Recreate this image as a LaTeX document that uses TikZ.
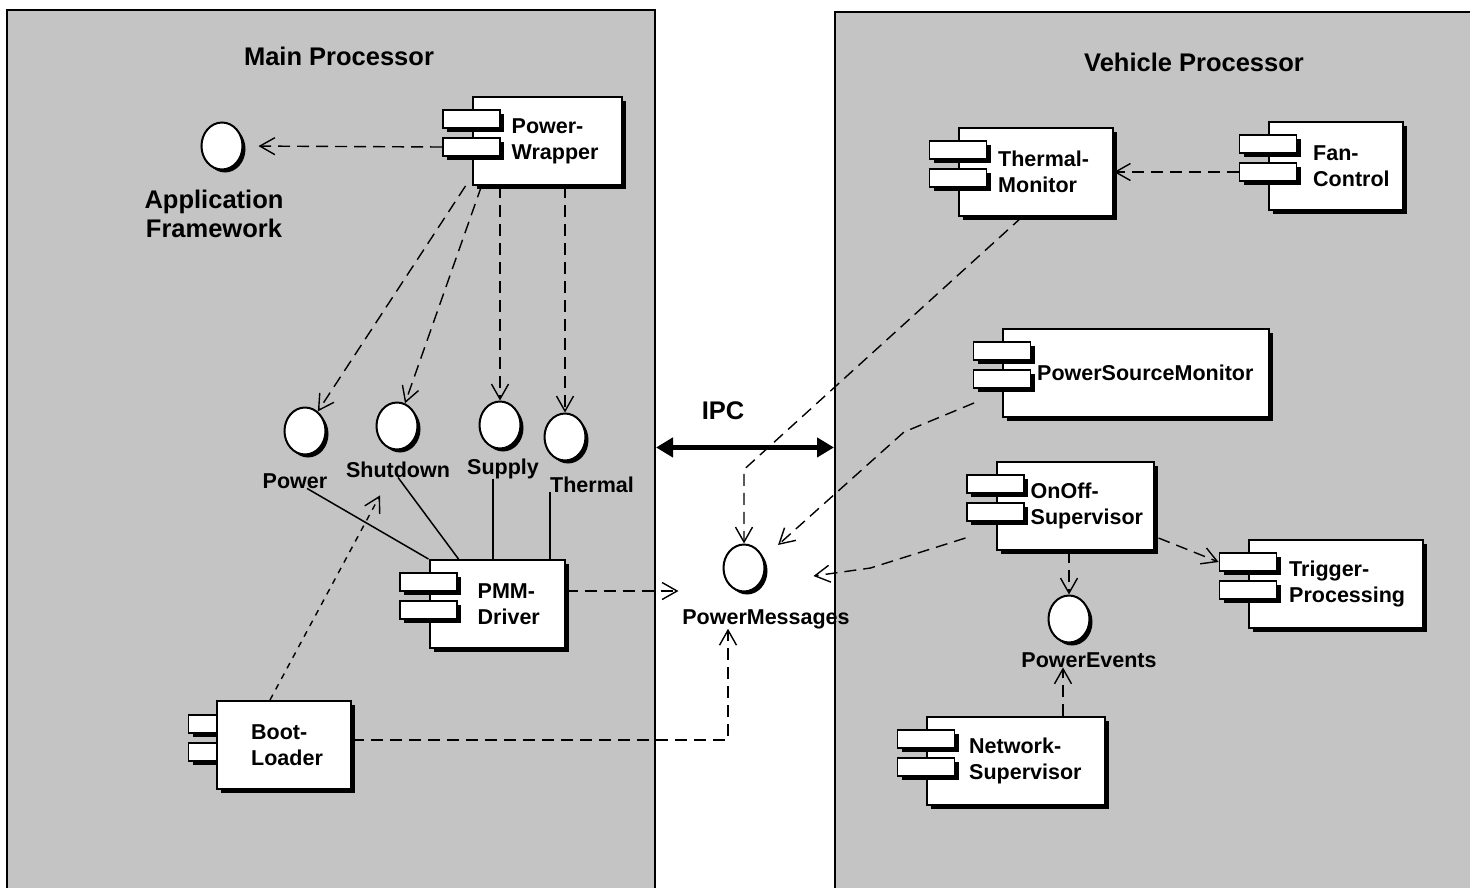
\documentclass[tikz,border=0pt]{standalone}
\usepackage{fontspec}
\setmainfont{Liberation Sans}
\usetikzlibrary{arrows.meta,shapes.geometric,shadows}
\definecolor{panelgray}{RGB}{196,196,196}
\begin{document}
\begin{tikzpicture}
  [x=1pt,y=-1pt,
   panel/.style={draw,line width=2pt,fill=panelgray,inner sep=0},
   shadowed/.style={drop shadow={shadow xshift=4pt,shadow yshift=-4pt,fill=black,opacity=1}},
   comp/.style={draw,fill=white,line width=2pt,minimum height=88pt,inner sep=0,shadowed},
   tab/.style={draw,fill=white,line width=1.8pt,minimum width=57pt,minimum height=18pt,inner sep=0,shadowed},
   ctext/.style={anchor=west,align=left,inner sep=0,font=\fontsize{21.5}{26}\selectfont\bfseries},
   iface/.style={ellipse,draw,fill=white,line width=2pt,minimum width=41pt,minimum height=47pt,inner sep=0,
     drop shadow={shadow xshift=3pt,shadow yshift=-3pt,fill=black,opacity=1}},
   lbl/.style={anchor=base,inner sep=0,font=\fontsize{21.5}{26}\selectfont\bfseries},
   big/.style={inner sep=0,align=center,font=\fontsize{25.5}{29}\selectfont\bfseries},
   dep/.style={line width=1.4pt,dash pattern=on 12pt off 7pt,-{Straight Barb[length=15pt,width=17pt]}},
   dotdep/.style={line width=1.4pt,dash pattern=on 6pt off 6pt,-{Straight Barb[length=15pt,width=17pt]}},
   real/.style={line width=1.5pt},
   ipc/.style={line width=5pt,{Triangle[length=17pt,width=19pt]}-{Triangle[length=17pt,width=19pt]}}]

  \fill[white] (0,0) rectangle (1470,887);
  \useasboundingbox (0,0) rectangle (1470,887);

  \node[panel,minimum width=648pt,minimum height=885pt] (mainp) at (331,452.5) {};
  \node[panel,minimum width=645pt,minimum height=883pt] (vehp) at (1157.5,453.5) {};

  \node[big,anchor=base] (tmain) at (339,65) {Main Processor};
  \node[big,anchor=base] (tveh) at (1194,71) {Vehicle Processor};
  \node[big,anchor=base] (lipc) at (723,419) {IPC};

  \foreach \n/\cx/\cy/\w/\dx/\txt in {
      wrap/547/141/149/40/{Power-\\Wrapper},
      pmm/497/604/135/49/{PMM-\\Driver},
      thmon/1036/172/154/40/{Thermal-\\Monitor},
      fan/1336/166/134/45/{Fan-\\Control},
      psm/1136/373/266/35/{PowerSourceMonitor},
      onoff/1075/506/157/35/{OnOff-\\Supervisor},
      trig/1336/584/174/41/{Trigger-\\Processing},
      net/1016/761/178/43/{Network-\\Supervisor}}
  {
    \node[comp,minimum width=\w pt] (\n) at (\cx,\cy) {};
    \node[tab] (\n-t1) at ([yshift=-23pt]\n.north west) {};
    \node[tab] (\n-t2) at ([yshift=-51pt]\n.north west) {};
    \node[ctext] (\n-l) at ([xshift=\dx pt]\n.west) {\txt};
  }

  \node[tab] (boot-t1) at (217,724) {};
  \node[tab] (boot-t2) at (217,752) {};
  \node[comp,minimum width=134pt] (boot) at (284,745) {};
  \node[ctext] (boot-l) at ([xshift=35pt]boot.west) {Boot-\\Loader};

  \node[iface] (app)   at (222,146) {};
  \node[iface] (ipow)  at (305,431) {};
  \node[iface] (ishut) at (397,426) {};
  \node[iface] (isup)  at (500,425) {};
  \node[iface] (ither) at (565,437) {};
  \node[iface] (imsg)  at (744,568) {};
  \node[iface] (ievt)  at (1069,619) {};

  \node[big] (lapp) at (214,214) {Application\\Framework};
  \node[lbl] (lpow)  at (295,488) {Power};
  \node[lbl] (lshut) at (398,477) {Shutdown};
  \node[lbl] (lsup)  at (503,474) {Supply};
  \node[lbl] (lther) at (592,492) {Thermal};
  \node[lbl] (lmsg)  at (766,624) {PowerMessages};
  \node[lbl] (levt)  at (1089,667) {PowerEvents};

  \draw[ipc] ([yshift=-28pt]lipc.south -| mainp.east) -- ([yshift=-28pt]lipc.south -| vehp.west);

  \draw[dep,shorten >=15pt] (wrap-t2.west) -- (app.east);
  \foreach \to/\dx in {ipow/-6,ishut/10}
    \draw[dep] ([xshift=\dx pt]wrap.south west) -- (\to);
  \foreach \to in {isup,ither}
    \draw[dep] (wrap.south -| \to) -- (\to);

  \draw[real] ([xshift=12pt]lpow.south) -- (pmm.north west);
  \draw[real] (lshut.south) -- ([xshift=30pt]pmm.north west);
  \draw[real] ([xshift=-10pt]lsup.south) -- ([xshift=-10pt]lsup.south |- pmm.north);
  \draw[real] (lther.south west) -- (lther.south west |- pmm.north);

  \draw[dep,shorten >=44pt] ([yshift=13pt]pmm.east) -- ([yshift=13pt]pmm.east -| imsg.west);
  \draw[dotdep] ([xshift=-14pt]boot.north) -- ([xshift=-18pt,yshift=-18pt]lshut.south);
  \draw[dep] ([yshift=5pt]boot.east) -| ([xshift=-38pt]lmsg.south);

  \draw[dep] ([xshift=-14pt]thmon.south) -- ([yshift=74pt]imsg.north) -- (imsg.north);
  \draw[dep] ([xshift=-28pt,yshift=-30pt]psm.west) -- ([xshift=-98pt,yshift=-59pt]psm.west)
    -- ([xshift=34pt,yshift=23pt]imsg.center);
  \draw[dep] ([xshift=-30pt,yshift=13pt]onoff.south west) -- ([xshift=105pt]imsg.east)
    -- ([xshift=48pt,yshift=-8pt]imsg.east);
  \draw[dep] ([xshift=4pt,yshift=13pt]onoff.south east) -- (trig-t1.west);
  \draw[dep] (onoff.south -| ievt) -- (ievt);
  \draw[dep] ([xshift=47pt]net.north) -- ([xshift=47pt]net.north |- levt.south);
  \draw[dep] (fan-t2.west) -- (thmon.east);
\end{tikzpicture}
\end{document}
